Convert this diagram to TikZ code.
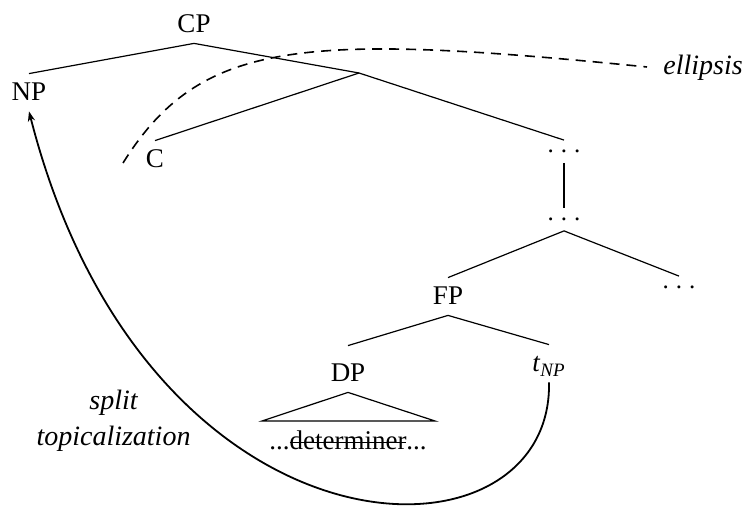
\documentclass[tikz,border=0pt]{standalone}
\usepackage{fontspec}
\setmainfont{Liberation Serif}
\usetikzlibrary{arrows.meta}
\newcommand{\spacedots}{.\kern3.5pt.\kern3.5pt.}
\newsavebox{\strikebox}
\newcommand{\struck}[1]{\sbox\strikebox{#1}\rlap{\rule[3.6pt]{\wd\strikebox}{0.55pt}}\usebox\strikebox}
\begin{document}
\begin{tikzpicture}[x=0.5pt,y=-0.5pt,
  cat/.style={inner xsep=2pt, inner ysep=5pt, text height=8.5pt, text depth=0pt,
    anchor=base, font=\fontsize{13.5}{16}\selectfont},
  dotn/.style={inner xsep=2pt, inner ysep=5pt, text height=1pt, text depth=0pt,
    anchor=base, font=\fontsize{12.5}{15}\selectfont},
  edge/.style={line width=0.6pt},
  gloss/.style={inner sep=0pt, font=\fontsize{14}{18}\selectfont\itshape},
  moveline/.style={line width=0.9pt, -{Stealth[length=5pt,width=3.6pt]}},
  elide/.style={line width=0.8pt, dash pattern=on 5pt off 3.5pt}]
\path[use as bounding box] (0,0) rectangle (742,506);

% tree nodes
\node[cat] (CP) at (194,33) {CP};
\node[cat] (NP) at (29,101) {NP};
\coordinate (Xbar) at (359,73);
\node[cat] (C) at (155,168) {C};
\node[dotn] (D1) at (564,152.5) {\spacedots};
\node[dotn] (D2) at (564,220.5) {\spacedots};
\node[cat] (FP) at (448,305) {FP};
\node[dotn] (D3) at (679,288.5) {\spacedots};
\node[cat, text height=13pt] (DP) at (348,382) {DP};
\node[cat] (tNP) at (549,372) {\textit{t}\textsubscript{\textit{NP}}};
\node[cat, inner ysep=0pt] (det) at (348,450) {...\struck{determiner}...};
\coordinate (tl) at (262,421);
\coordinate (tr) at (435,421);

% branches
\draw[edge] (NP.north) -- (CP.south) -- (Xbar);
\draw[edge] (C.north) -- (Xbar) -- (D1.north);
\draw[edge] (D1.south) -- (D2.north);
\draw[edge] (FP.north) -- (D2.south) -- (D3.north);
\draw[edge] (DP.north) -- (FP.south) -- (tNP.north);
\draw[edge] (DP.south) -- (tl) -- (tr) -- cycle;

% movement arrow
\draw[moveline] (tNP.south) .. controls +(4,194) and +(118,462) .. (NP.south);
\node[gloss, align=center, anchor=base] (split) at (113.5,445) {split\\topicalization};

% ellipsis site
\node[gloss, anchor=base west] (ell) at (663,75) {ellipsis};
\coordinate (e0) at (123,163);
\coordinate (e1) at (647,67);
\draw[elide] (e0) .. controls (200,40) and (300,32) .. (e1);
\end{tikzpicture}
\end{document}
